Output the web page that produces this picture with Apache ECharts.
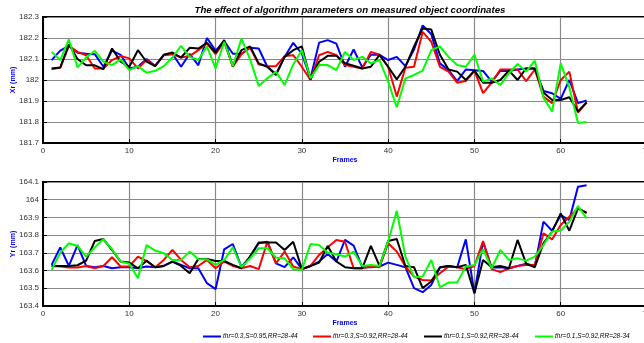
<!DOCTYPE html>
<html>
<head>
<meta charset="utf-8">
<script src="https://cdn.jsdelivr.net/npm/echarts@6/dist/echarts.min.js"></script>
<style>
  html, body { margin: 0; padding: 0; background: #fff; }
  #chart { width: 644px; height: 343px; }
</style>
</head>
<body>
<div id="chart"></div>
<script>
// Frame numbers 1..63
const frames = [];
for (let i = 1; i <= 63; i++) frames.push(i);

const seriesNames = [
  'thr=0.3,S=0.95,RR=28-44',
  'thr=0.3,S=0.92,RR=28-44',
  'thr=0.1,S=0.92,RR=28-44',
  'thr=0.1,S=0.92,RR=28-34'
];
const seriesColors = ['#0000ff', '#ff0000', '#000000', '#00ff00'];

// Xr (mm) per frame
const xrBlue = [182.095, 182.14, 182.163, 182.13, 182.125, 182.123, 182.063, 182.14, 182.12, 182.055,
  182.063, 182.1, 182.068, 182.12, 182.125, 182.063, 182.125, 182.07, 182.2, 182.14,
  182.185, 182.125, 182.125, 182.153, 182.15, 182.063, 182.028, 182.11, 182.177, 182.125,
  182.008, 182.178, 182.19, 182.173, 182.063, 182.145, 182.06, 182.12, 182.12, 182.095,
  182.11, 182.066, 182.145, 182.26, 182.218, 182.079, 182.047, 181.995, 182.05, 182.047,
  182.043, 181.992, 182.043, 182.043, 182.05, 182.055, 182.055, 181.948, 181.937, 181.91,
  182.0, 181.89, 181.902];
const xrRed = [182.052, 182.058, 182.163, 182.134, 182.118, 182.055, 182.055, 182.095, 182.114, 182.103,
  182.055, 182.095, 182.066, 182.118, 182.123, 182.107, 182.114, 182.142, 182.174, 182.123,
  182.182, 182.063, 182.123, 182.155, 182.074, 182.066, 182.066, 182.114, 182.118, 182.063,
  182.0, 182.118, 182.134, 182.118, 182.071, 182.063, 182.055, 182.134, 182.12, 182.063,
  181.921, 182.058, 182.063, 182.229, 182.182, 182.063, 182.04, 181.987, 181.995, 182.045,
  181.937, 181.987, 182.05, 182.05, 182.05, 181.995, 182.05, 181.921, 181.889, 182.0,
  182.04, 181.845, 181.893];
const xrBlack = [182.055, 182.06, 182.17, 182.1, 182.07, 182.07, 182.052, 182.15, 182.087, 182.063,
  182.142, 182.087, 182.066, 182.12, 182.131, 182.107, 182.153, 182.15, 182.177, 182.13,
  182.19, 182.066, 182.142, 182.16, 182.079, 182.063, 182.024, 182.11, 182.142, 182.16,
  182.003, 182.087, 182.115, 182.115, 182.08, 182.068, 182.055, 182.063, 182.12, 182.063,
  182.003, 182.063, 182.16, 182.245, 182.24, 182.12, 182.05, 182.04, 182.0, 182.045,
  181.987, 181.987, 182.0, 182.045, 182.0, 182.055, 182.055, 181.94, 181.905, 181.905,
  181.918, 181.85, 181.893];
const xrGreen = [182.134, 182.095, 182.193, 182.06, 182.107, 182.139, 182.087, 182.071, 182.098, 182.047,
  182.066, 182.035, 182.044, 182.066, 182.107, 182.163, 182.11, 182.095, 182.16, 182.055,
  182.182, 182.066, 182.197, 182.098, 181.972, 182.008, 182.04, 181.976, 182.074, 182.142,
  182.008, 182.071, 182.071, 182.047, 182.134, 182.095, 182.11, 182.079, 182.095, 181.992,
  181.87, 182.008, 182.024, 182.045, 182.142, 182.16, 182.11, 182.071, 182.063, 182.12,
  181.992, 182.008, 181.976, 182.032, 182.076, 182.04, 182.092, 181.916, 181.85, 182.079,
  181.965, 181.795, 181.8];

// Yr (mm) per frame
const yrBlue = [163.632, 163.731, 163.626, 163.744, 163.626, 163.619, 163.626, 163.613, 163.619, 163.619,
  163.613, 163.623, 163.619, 163.626, 163.651, 163.632, 163.613, 163.613, 163.529, 163.495,
  163.720, 163.750, 163.619, 163.679, 163.754, 163.763, 163.641, 163.619, 163.675, 163.608,
  163.626, 163.651, 163.694, 163.651, 163.773, 163.741, 163.619, 163.619, 163.623, 163.645,
  163.632, 163.619, 163.501, 163.478, 163.519, 163.617, 163.626, 163.619, 163.776, 163.472,
  163.763, 163.617, 163.619, 163.613, 163.626, 163.638, 163.626, 163.876, 163.825, 163.913,
  163.885, 164.073, 164.082];
const yrRed = [163.626, 163.623, 163.617, 163.617, 163.626, 163.613, 163.626, 163.675, 163.623, 163.623,
  163.679, 163.654, 163.619, 163.660, 163.716, 163.660, 163.619, 163.626, 163.660, 163.613,
  163.651, 163.626, 163.613, 163.626, 163.608, 163.763, 163.641, 163.707, 163.623, 163.608,
  163.626, 163.688, 163.731, 163.773, 163.763, 163.613, 163.613, 163.623, 163.619, 163.754,
  163.707, 163.623, 163.566, 163.547, 163.544, 163.585, 163.623, 163.619, 163.608, 163.626,
  163.767, 163.608, 163.591, 163.613, 163.626, 163.632, 163.632, 163.810, 163.776, 163.857,
  163.904, 163.951, 163.926];
const yrBlack = [163.626, 163.626, 163.626, 163.630, 163.656, 163.767, 163.778, 163.716, 163.651, 163.645,
  163.613, 163.656, 163.619, 163.626, 163.651, 163.626, 163.585, 163.666, 163.666, 163.654,
  163.654, 163.632, 163.613, 163.679, 163.759, 163.759, 163.759, 163.716, 163.763, 163.608,
  163.626, 163.645, 163.739, 163.651, 163.619, 163.613, 163.613, 163.739, 163.626, 163.767,
  163.778, 163.626, 163.619, 163.501, 163.538, 163.619, 163.626, 163.619, 163.632, 163.472,
  163.660, 163.619, 163.626, 163.613, 163.773, 163.638, 163.619, 163.754, 163.820, 163.923,
  163.825, 163.951, 163.926];
const yrGreen = [163.604, 163.701, 163.754, 163.739, 163.679, 163.731, 163.778, 163.720, 163.651, 163.638,
  163.557, 163.744, 163.713, 163.698, 163.660, 163.660, 163.707, 163.664, 163.664, 163.632,
  163.660, 163.731, 163.619, 163.669, 163.726, 163.726, 163.673, 163.669, 163.608, 163.604,
  163.750, 163.744, 163.701, 163.692, 163.679, 163.707, 163.626, 163.632, 163.626, 163.763,
  163.938, 163.679, 163.562, 163.566, 163.660, 163.506, 163.532, 163.532, 163.623, 163.632,
  163.720, 163.613, 163.716, 163.660, 163.669, 163.656, 163.679, 163.744, 163.820, 163.825,
  163.876, 163.964, 163.895];

const xrSets = [xrBlue, xrRed, xrBlack, xrGreen];
const yrSets = [yrBlue, yrRed, yrBlack, yrGreen];

const FONT = '"Liberation Sans", Arial, sans-serif';

function pairs(vals) {
  return vals.map((v, i) => [frames[i], v]);
}

function xAxisCfg(gridIndex) {
  return {
    type: 'value', gridIndex, min: 0, max: 70, interval: 10,
    name: 'Frames', nameLocation: 'middle', nameGap: 14, nameMoveOverlap: false,
    nameTextStyle: { color: '#0000ff', fontSize: 7, fontWeight: 'bold', fontFamily: FONT },
    axisLine: { show: true, onZero: false, lineStyle: { color: '#000', width: 2 } },
    axisTick: { show: true, inside: true, length: 4, lineStyle: { color: '#000' } },
    axisLabel: { color: '#333', fontSize: 8, fontFamily: FONT, margin: 4 },
    splitLine: { show: true, lineStyle: { color: '#8a8a8a', width: 1.2 } }
  };
}

function yAxisCfg(gridIndex, name, min, max) {
  return {
    type: 'value', gridIndex, min, max, interval: 0.1,
    name, nameLocation: 'middle', nameGap: 26, nameRotate: 90, nameMoveOverlap: false,
    nameTextStyle: { color: '#0000ff', fontSize: 7, fontWeight: 'bold', fontFamily: FONT },
    axisLine: { show: true, lineStyle: { color: '#000', width: 2 } },
    axisTick: { show: true, inside: true, length: 4, lineStyle: { color: '#000' } },
    axisLabel: {
      color: '#333', fontSize: 8, fontFamily: FONT, margin: 4,
      formatter: v => String(+v.toFixed(1))
    },
    splitLine: { show: true, lineStyle: { color: '#8a8a8a', width: 1.2 } }
  };
}

const series = [];
for (let k = 0; k < 4; k++) {
  series.push({
    name: seriesNames[k], type: 'line', xAxisIndex: 0, yAxisIndex: 0,
    data: pairs(xrSets[k]), showSymbol: false, symbol: 'none',
    lineStyle: { color: seriesColors[k], width: 2 }, itemStyle: { color: seriesColors[k] }
  });
}
for (let k = 0; k < 4; k++) {
  series.push({
    name: seriesNames[k], type: 'line', xAxisIndex: 1, yAxisIndex: 1,
    data: pairs(yrSets[k]), showSymbol: false, symbol: 'none',
    lineStyle: { color: seriesColors[k], width: 2 }, itemStyle: { color: seriesColors[k] }
  });
}

const legendLefts = [203, 313, 424, 535];
const legends = seriesNames.map((n, k) => ({
  data: [n], left: legendLefts[k], top: 333, padding: 0,
  icon: 'rect', itemWidth: 18, itemHeight: 2, itemGap: 0,
  textStyle: { fontSize: 6.5, fontStyle: 'italic', color: '#000', fontFamily: FONT, padding: [0, 0, 0, -3] }
}));

const gridBase = {
  left: 43, width: 604, show: true, borderColor: '#000', borderWidth: 2,
  backgroundColor: 'transparent', containLabel: false, outerBoundsMode: 'none'
};

const chart = echarts.init(document.getElementById('chart'), null, { renderer: 'canvas' });
chart.setOption({
  animation: false,
  backgroundColor: '#fff',
  title: {
    text: 'The effect of algorithm parameters on measured object coordinates',
    left: 345, top: 0, textAlign: 'center',
    textStyle: { fontSize: 9.7, fontWeight: 'bold', fontStyle: 'italic', color: '#000', fontFamily: FONT }
  },
  legend: legends,
  grid: [
    Object.assign({ top: 17, height: 126 }, gridBase),
    Object.assign({ top: 182, height: 124 }, gridBase)
  ],
  xAxis: [xAxisCfg(0), xAxisCfg(1)],
  yAxis: [yAxisCfg(0, 'Xr (mm)', 181.7, 182.3), yAxisCfg(1, 'Yr (mm)', 163.4, 164.1)],
  series
});
</script>
</body>
</html>
